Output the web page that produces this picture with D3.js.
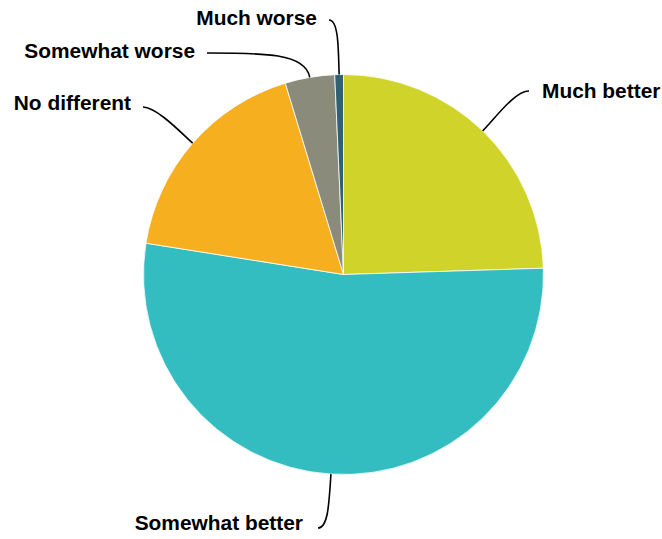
<!DOCTYPE html>
<html>
<head>
<meta charset="utf-8">
<script src="https://cdn.jsdelivr.net/npm/d3@7"></script>
<style>
  html, body { margin: 0; padding: 0; background: #fff; }
  svg { display: block; }
  text { font-family: "Liberation Sans", Arial, Helvetica, sans-serif; font-weight: bold; }
</style>
</head>
<body>
<svg id="chart" width="662" height="539"></svg>
<script>
// ---- data ----
const categories = ["Much better", "Somewhat better", "No different", "Somewhat worse", "Much worse"];
const values = [24.5, 53.0, 17.8, 4.0, 0.7];
const colors = ["#D0D42A", "#33BDC0", "#F6AF1F", "#8A8B7A", "#2D6173"];

// ---- layout (label connector end points, text side) ----
const labelEnds = [
  { x: 529, y: 91, side: 1, lead: 14, radialLead: 20, baseline: 98, gap: 13 },
  { x: 318, y: 528, side: -1, lead: 10, radialLead: 30, baseline: 530, gap: 15 },
  { x: 143, y: 107, side: -1, lead: 14, radialLead: 12, baseline: 110, gap: 12 },
  { x: 207, y: 53, side: -1, lead: 55, radialLead: 25, baseline: 58, gap: 12 },
  { x: 329, y: 20, side: -1, lead: 9, radialLead: 30, baseline: 25, gap: 12 }
];

const W = 662, H = 539;
const cx = 343.5, cy = 274.5, R = 200;

const svg = d3.select("#chart");
const g = svg.append("g").attr("transform", `translate(${cx},${cy})`);

const pie = d3.pie().sort(null).value(d => d)(values);
const arc = d3.arc().innerRadius(0).outerRadius(R);

g.selectAll("path.slice")
  .data(pie)
  .join("path")
  .attr("class", "slice")
  .attr("d", arc)
  .attr("fill", (d, i) => colors[i])
  .attr("stroke", "#fff")
  .attr("stroke-width", 0.8)
  .attr("stroke-linejoin", "round");

// connectors and labels
pie.forEach((d, i) => {
  const mid = (d.startAngle + d.endAngle) / 2;
  const ux = Math.sin(mid), uy = -Math.cos(mid);
  const ax = cx + ux * R, ay = cy + uy * R;
  const L = labelEnds[i];
  const p = d3.path();
  p.moveTo(ax, ay);
  p.bezierCurveTo(ax + ux * L.radialLead, ay + uy * L.radialLead,
                  L.x - L.side * L.lead, L.y,
                  L.x, L.y);
  svg.append("path")
    .attr("d", p.toString())
    .attr("fill", "none")
    .attr("stroke", "#000")
    .attr("stroke-width", 1.6);

  svg.append("text")
    .attr("x", L.x + L.side * L.gap)
    .attr("y", L.baseline)
    .attr("text-anchor", L.side > 0 ? "start" : "end")
    .attr("font-size", "20.9px")
    .attr("fill", "#000")
    .text(categories[i]);
});
</script>
</body>
</html>
